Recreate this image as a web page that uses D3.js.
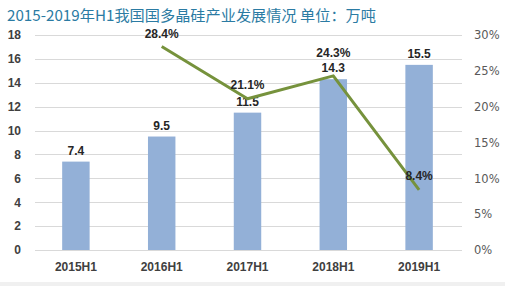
<!DOCTYPE html>
<html><head><meta charset="utf-8">
<script src="https://cdn.jsdelivr.net/npm/d3@7"></script>
<style>
html,body{margin:0;padding:0;background:#fff;}
svg{display:block;}
</style></head>
<body>
<script>
const categories = ["2015H1","2016H1","2017H1","2018H1","2019H1"];
const output = [7.4, 9.5, 11.5, 14.3, 15.5];
const growth = [null, 28.4, 21.1, 24.3, 8.4];
const leftTicks = [0,2,4,6,8,10,12,14,16,18];
const rightTicks = [0,5,10,15,20,25,30];
const title = "2015-2019年H1我国国多晶硅产业发展情况 单位：万吨";

const W = 505, H = 286;
const svg = d3.select("body").append("svg").attr("width", W).attr("height", H);
svg.append("rect").attr("width", W).attr("height", H).attr("fill", "#fff");
svg.append("rect").attr("x", 0).attr("y", 282).attr("width", W).attr("height", 4).attr("fill", "#f0f0f0");

const plot = {left: 33, right: 462, top: 35, bottom: 250};
const x = d3.scaleBand().domain(categories).range([plot.left, plot.right]).paddingInner(0.68).paddingOuter(0.34);
const yL = d3.scaleLinear().domain([0, 18]).range([plot.bottom, plot.top]);
const yR = d3.scaleLinear().domain([0, 30]).range([plot.bottom, plot.top]);

// title
svg.append("text").attr("x", 7).attr("y", 21)
  .attr("font-family", "'Noto Sans CJK SC', sans-serif").attr("font-size", 15.2)
  .attr("fill", "#2b7ba3").text(title);

// gridlines
svg.append("g").selectAll("line").data(leftTicks).join("line")
  .attr("x1", plot.left + 2).attr("x2", plot.right)
  .attr("y1", d => Math.round(yL(d)) + 0.5).attr("y2", d => Math.round(yL(d)) + 0.5)
  .attr("stroke", "#d9d9d9").attr("stroke-width", 1);

// left axis
const axL = svg.append("g").attr("transform", `translate(${plot.left},0)`)
  .call(d3.axisLeft(yL).tickValues(leftTicks).tickSize(0).tickPadding(12));
axL.select(".domain").remove();
axL.selectAll("text").attr("font-family", "'Liberation Sans', Arial, sans-serif")
  .attr("font-size", 12).attr("font-weight", "bold").attr("fill", "#404040");

// right axis
const axR = svg.append("g").attr("transform", `translate(${plot.right},0)`)
  .call(d3.axisRight(yR).tickValues(rightTicks).tickSize(0).tickPadding(12).tickFormat(d => d + "%"));
axR.select(".domain").remove();
axR.selectAll("text").attr("font-family", "'DejaVu Sans', Verdana, sans-serif")
  .attr("font-size", 11.5).attr("fill", "#595959");

// x axis
const axX = svg.append("g").attr("transform", `translate(0,${plot.bottom})`)
  .call(d3.axisBottom(x).tickSize(0).tickPadding(12));
axX.select(".domain").remove();
axX.selectAll("text").attr("font-family", "'Liberation Sans', Arial, sans-serif")
  .attr("font-size", 12).attr("font-weight", "bold").attr("fill", "#404040");

// bars
svg.append("g").selectAll("rect").data(output).join("rect")
  .attr("x", (d, i) => x(categories[i])).attr("width", x.bandwidth())
  .attr("y", d => yL(d)).attr("height", d => yL(0) - yL(d))
  .attr("fill", "#93b0d7");

// bar labels
svg.append("g").selectAll("text").data(output).join("text")
  .attr("x", (d, i) => x(categories[i]) + x.bandwidth() / 2)
  .attr("y", d => yL(d) - 7)
  .attr("text-anchor", "middle")
  .attr("font-family", "'Liberation Sans', Arial, sans-serif")
  .attr("font-size", 12).attr("font-weight", "bold").attr("fill", "#262626")
  .text(d => d.toFixed(1));

// line
const pts = growth.map((v, i) => ({c: categories[i], v})).filter(d => d.v !== null);
const line = d3.line().x(d => x(d.c) + x.bandwidth() / 2).y(d => yR(d.v));
svg.append("path").datum(pts).attr("d", line)
  .attr("fill", "none").attr("stroke", "#76923c").attr("stroke-width", 3)
  .attr("stroke-linejoin", "round");

// line labels (label lift per point to mimic placement)
const lift = [0, 8, 10, 19, 10];
svg.append("g").selectAll("text").data(pts).join("text")
  .attr("x", d => x(d.c) + x.bandwidth() / 2)
  .attr("y", d => yR(d.v) - lift[categories.indexOf(d.c)])
  .attr("text-anchor", "middle")
  .attr("font-family", "'Liberation Sans', Arial, sans-serif")
  .attr("font-size", 12).attr("font-weight", "bold").attr("fill", "#262626")
  .text(d => d.v.toFixed(1) + "%");
</script>
</body></html>
